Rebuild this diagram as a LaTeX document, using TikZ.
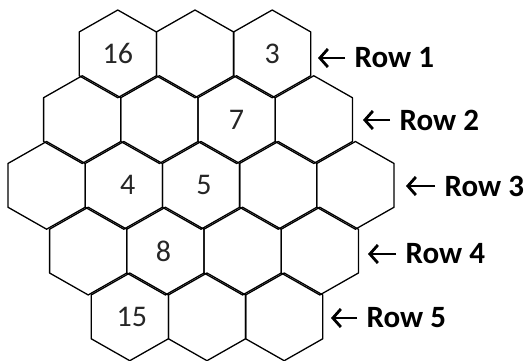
\documentclass[tikz,border=0pt]{standalone}
\usepackage{fontspec}
\setmainfont{Carlito}
\usetikzlibrary{arrows.meta}
\tikzset{
  every picture/.style={line width=1.3pt},
  cell/.style={draw, line join=round},
  num/.style={font=\fontsize{30}{32}\selectfont, text=black!85, inner sep=0pt},
  rowtag/.style={font=\fontsize{31}{33}\selectfont\bfseries, anchor=west, inner sep=0pt},
  pointer/.style={-{Straight Barb[length=8pt, width=18pt]}, line width=2.8pt, shorten <=9pt},
}

\begin{document}
\begin{tikzpicture}[x=1pt, y=-1pt]
  \useasboundingbox (0,0) rectangle (531,360);
  % honeycomb: 3,4,5,4,3 cells
  \foreach \n/\dx [count=\r] in {3/195, 4/198, 5/201, 4/204, 3/207} {
    \foreach \c in {1,...,\n} {
      \pgfmathsetmacro\cx{\dx+(\c-(\n+1)/2)*77.2}
      \pgfmathsetmacro\cy{53.85+(\r-1)*65.75}
      \coordinate (h\r\c) at (\cx,\cy);
      \draw[cell] (h\r\c) ++(0,-43.85) -- ++(38.6,21.95) -- ++(0,43.8)
        -- ++(-38.6,21.95) -- ++(-38.6,-21.95) -- ++(0,-43.8) -- cycle;
    }
  }
  \node[num] (n16) at (h11) {16};
  \node[num] (n3) at (h13) {3};
  \node[num] (n7) at (h23) {7};
  \node[num] (n4) at ([xshift=4pt]h32) {4};
  \node[num] (n5) at ([xshift=3pt]h33) {5};
  \node[num] (n8) at ([xshift=-2pt]h42) {8};
  \node[num] (n15) at ([xshift=2pt]h51) {15};
  % row tags
  \node[rowtag] (t1) at (354,58) {Row 1};
  \node[rowtag] (t2) at (399,120) {Row 2};
  \node[rowtag] (t3) at (444,186) {Row 3};
  \node[rowtag] (t4) at (405,254) {Row 4};
  \node[rowtag] (t5) at (366,318) {Row 5};
  \coordinate (a1) at (318,58);
  \coordinate (a2) at (363,120);
  \coordinate (a3) at (406,186);
  \coordinate (a4) at (368,254);
  \coordinate (a5) at (331,318);
  \foreach \i in {1,...,5}
    \draw[pointer] (t\i.west) -- (a\i);
\end{tikzpicture}
\end{document}
